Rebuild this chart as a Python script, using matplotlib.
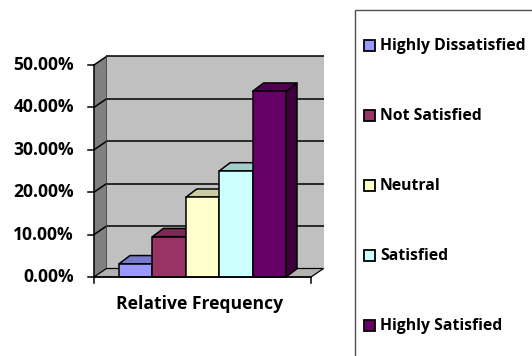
import matplotlib
matplotlib.use("Agg")
import matplotlib.pyplot as plt
from matplotlib.patches import Polygon, Rectangle
from matplotlib.colors import to_rgb

# ---- data -------------------------------------------------------------
categories = ["Highly Dissatisfied", "Not Satisfied", "Neutral",
              "Satisfied", "Highly Satisfied"]
rel_freq = [3.1, 9.5, 18.8, 25.0, 43.8]          # percent
colors = ["#9999FF", "#993366", "#FFFFCC", "#CCFFFF", "#660066"]
y_ticks = [0, 10, 20, 30, 40, 50]
y_tick_labels = ["0.00%", "10.00%", "20.00%", "30.00%", "40.00%", "50.00%"]
x_label = "Relative Frequency"

FONT = "Open Sans"

W, H, DPI = 532, 356, 100
fig = plt.figure(figsize=(W / DPI, H / DPI), dpi=DPI)
fig.patch.set_facecolor("white")

# chart axes: one category slot = 33.4 px, one percent = 4.24 px
PX_CAT, PX_PCT = 33.4, 4.24
X0_PX, Y0_PX = 135.7, 277.0            # pixel position of (0, 0%)
ax = fig.add_axes([0, 0, 1, 1])
ax.set_xlim(-X0_PX / PX_CAT, (W - X0_PX) / PX_CAT)
ax.set_ylim(-(H - Y0_PX) / PX_PCT, Y0_PX / PX_PCT)
ax.axis("off")

# oblique depth of the walls and of the columns
wdx, wdy = 12.5 / PX_CAT, 8.5 / PX_PCT
bdx, bdy = 11.0 / PX_CAT, 8.3 / PX_PCT
x_left, x_right = -1.25, len(categories) + 0.25
y_max = y_ticks[-1]
LW = 1.1


def shade(c, f):
    r, g, b = to_rgb(c)
    return (r * f, g * f, b * f)


# back wall, left wall, floor
ax.add_patch(Polygon([(x_left + wdx, wdy), (x_right + wdx, wdy),
                      (x_right + wdx, y_max + wdy), (x_left + wdx, y_max + wdy)],
                     closed=True, facecolor="#C0C0C0", edgecolor="none", zorder=1))
ax.add_patch(Polygon([(x_left, 0), (x_left + wdx, wdy),
                      (x_left + wdx, y_max + wdy), (x_left, y_max)],
                     closed=True, facecolor="#808080", edgecolor="none", zorder=1))
ax.add_patch(Polygon([(x_left, 0), (x_right, 0), (x_right + wdx, wdy), (x_left + wdx, wdy)],
                     closed=True, facecolor="#B2B2B2", edgecolor="black",
                     linewidth=LW * 0.8, zorder=2))

# gridlines on back and left walls
for v in y_ticks[1:]:
    ax.plot([x_left + wdx, x_right + wdx], [v + wdy, v + wdy],
            color="black", lw=LW, zorder=1.5, solid_capstyle="butt")
    ax.plot([x_left, x_left + wdx], [v, v + wdy],
            color="black", lw=LW, zorder=1.5)
ax.plot([x_left + wdx, x_left + wdx], [wdy, y_max + wdy], color="#404040", lw=0.6, zorder=1.6)

# value axis with ticks and labels
ax.plot([x_left, x_left], [0, y_max], color="black", lw=LW, zorder=6)
tick_len = 5.5 / PX_CAT
for v, lab in zip(y_ticks, y_tick_labels):
    ax.plot([x_left - tick_len, x_left], [v, v], color="black", lw=LW, zorder=6)
    ax.text(x_left - 20 / PX_CAT, v, lab, ha="right", va="center",
            fontsize=12.6, fontweight="bold", family=FONT, color="black")

# category axis line with end ticks
ax.plot([x_left, x_right], [0, 0], color="black", lw=LW, zorder=6)
for xe in (x_left, x_right):
    ax.plot([xe, xe], [0, -6 / PX_PCT], color="black", lw=LW, zorder=6)
ax.text((x_left + x_right) / 2 - 3 / PX_CAT, -27 / PX_PCT, x_label, ha="center", va="center",
        fontsize=12.6, fontweight="bold", family=FONT, color="black")

# 3-D columns, drawn left to right so each one covers its neighbour's side
for i, (v, c) in enumerate(zip(rel_freq, colors)):
    xl, xr = i - 0.5, i + 0.5
    z = 3 + i * 0.1
    ax.add_patch(Polygon([(xr, 0), (xr + bdx, bdy), (xr + bdx, v + bdy), (xr, v)],
                         closed=True, facecolor=shade(c, 0.6), edgecolor="black",
                         linewidth=LW, joinstyle="round", zorder=z))
    ax.add_patch(Polygon([(xl, v), (xr, v), (xr + bdx, v + bdy), (xl + bdx, v + bdy)],
                         closed=True, facecolor=shade(c, 0.8), edgecolor="black",
                         linewidth=LW, joinstyle="round", zorder=z + 0.01))
    ax.add_patch(Polygon([(xl, 0), (xr, 0), (xr, v), (xl, v)],
                         closed=True, facecolor=c, edgecolor="black",
                         linewidth=LW, joinstyle="round", zorder=z + 0.02))

# legend panel
tf = fig.transFigure
fig.patches.append(Rectangle((355 / W, -0.05), 1.0, (H - 10) / H + 0.05,
                             transform=tf, facecolor="white", edgecolor="#505050",
                             linewidth=1.0, zorder=0))
for k, (name, c) in enumerate(zip(categories, colors)):
    yc = 45.7 + 70 * k
    fig.patches.append(Rectangle((363.5 / W, 1 - (yc + 5.5) / H), 11 / W, 11 / H,
                                 transform=tf, facecolor=c, edgecolor="black",
                                 linewidth=1.3, zorder=2))
    fig.text(380 / W, 1 - yc / H, name, ha="left", va="center",
             fontsize=11.3, fontweight="bold", family=FONT, color="black")

fig.savefig("out.png", dpi=DPI, facecolor="white")
